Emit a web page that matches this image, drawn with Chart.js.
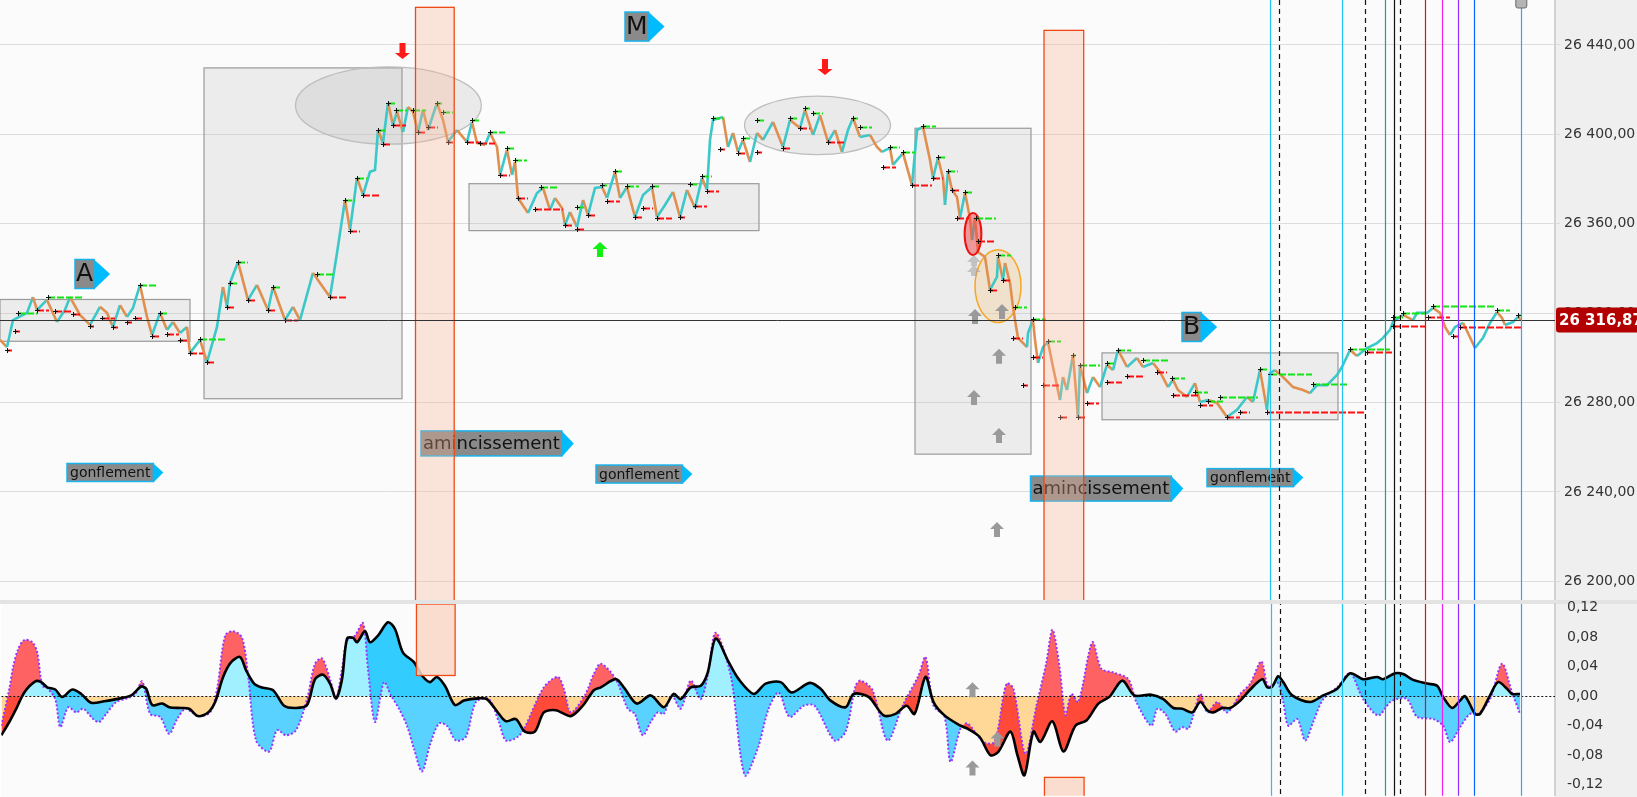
<!DOCTYPE html>
<html>
<head>
<meta charset="utf-8">
<script src="https://cdn.jsdelivr.net/npm/chart.js@4.4.1/dist/chart.umd.min.js"></script>
<style>
html, body { margin: 0; padding: 0; background: #fff; overflow: hidden; }
#wrap { position: relative; width: 1637px; height: 797px; }
#priceChart { position: absolute; left: 0; top: 0; }
#oscChart { position: absolute; left: 0; top: 600px; }
</style>
</head>
<body>
<div id="wrap">
  <canvas id="priceChart" width="1637" height="600"></canvas>
  <canvas id="oscChart" width="1637" height="197"></canvas>
</div>
<script>
// ---- price series (time, price) ----
const priceT = [0,7,13,27,33,37,47,57,65,70,80,90,100,107,113,120,127,133,140,147,152,160,167,173,180,187,190,200,207,217,223,227,230,238,248,257,268,273,285,293,300,313,320,330,337,345,350,357,363,370,375,378,383,388,393,397,403,408,413,418,423,428,437,443,448,457,467,472,477,485,490,497,500,507,512,515,518,528,537,543,550,555,562,565,570,577,583,588,595,602,607,615,620,627,635,643,652,657,665,673,680,687,695,702,707,710,713,723,728,733,738,743,750,757,763,773,783,790,800,805,813,820,828,835,842,848,853,860,870,877,882,890,893,903,912,917,923,930,933,938,943,945,948,952,957,960,965,970,972,975,978,985,990,997,998,1003,1005,1010,1013,1015,1018,1027,1028,1033,1035,1038,1043,1048,1053,1060,1063,1067,1073,1078,1080,1087,1093,1100,1107,1113,1118,1127,1137,1143,1153,1160,1168,1173,1178,1187,1195,1200,1208,1217,1227,1237,1247,1253,1260,1267,1270,1275,1283,1293,1303,1310,1317,1327,1337,1342,1350,1357,1367,1377,1383,1390,1393,1400,1403,1413,1417,1427,1433,1440,1445,1450,1455,1463,1468,1475,1483,1490,1497,1502,1505,1513,1518,1521];
const priceV = [26308.0,26304.8,26316.9,26320.1,26327.2,26321.4,26325.9,26316.0,26321.4,26327.2,26319.2,26314.7,26322.8,26320.1,26313.8,26323.6,26318.3,26322.3,26332.6,26318.3,26310.2,26320.1,26312.5,26316.0,26311.1,26313.8,26302.2,26308.0,26298.1,26313.8,26331.7,26322.8,26333.5,26342.9,26325.9,26332.6,26321.4,26331.7,26316.9,26322.8,26316.9,26338.0,26333.5,26327.2,26346.9,26370.6,26357.2,26380.5,26372.9,26383.2,26384.0,26401.9,26396.1,26414.0,26404.2,26410.0,26401.0,26412.2,26410.0,26401.0,26410.9,26401.9,26414.0,26406.4,26396.6,26401.9,26396.6,26405.5,26396.1,26395.2,26400.6,26394.3,26381.8,26393.0,26381.8,26387.6,26371.5,26364.8,26373.7,26376.0,26366.2,26371.5,26367.0,26359.4,26365.2,26358.5,26370.6,26363.9,26376.0,26376.4,26371.5,26383.2,26371.5,26376.4,26363.0,26372.8,26376.4,26363.0,26368.4,26374.2,26363.0,26375.1,26367.0,26380.5,26375.1,26397.5,26406.4,26407.7,26394.3,26400.6,26392.1,26397.5,26387.6,26400.6,26397.5,26405.5,26394.3,26406.4,26402.8,26410.9,26399.7,26408.6,26396.6,26401.9,26392.1,26401.9,26407.3,26398.8,26399.7,26394.3,26392.1,26393.9,26386.3,26391.6,26377.3,26401.9,26403.3,26388.5,26380.5,26389.4,26380.5,26368.4,26383.2,26375.1,26372.0,26362.6,26373.7,26362.6,26352.7,26362.6,26347.3,26345.1,26330.4,26336.2,26345.1,26334.8,26342.4,26333.5,26322.8,26316.9,26308.9,26304.8,26311.1,26316.9,26308.0,26297.7,26304.8,26307.1,26295.9,26281.1,26291.4,26285.6,26301.3,26273.5,26296.8,26284.2,26291.4,26286.9,26296.8,26294.5,26303.5,26295.9,26299.9,26295.9,26297.7,26293.7,26286.9,26290.1,26285.6,26282.5,26288.7,26280.2,26281.1,26279.8,26273.5,26276.7,26282.5,26280.2,26294.5,26276.7,26293.2,26294.5,26291.4,26286.9,26285.6,26284.2,26287.8,26287.8,26292.3,26295.9,26303.5,26300.8,26304.4,26306.6,26308.9,26312.5,26316.0,26318.3,26319.2,26316.9,26320.1,26320.1,26322.3,26320.1,26313.8,26310.2,26313.8,26315.6,26311.1,26304.4,26308.9,26315.6,26320.5,26317.8,26314.7,26316.0,26318.3,26316.9];
const lastPrice = 26316.87;
const priceTicks = [26200, 26240, 26280, 26320, 26360, 26400, 26440];

// swing highs / lows: time, price, extension
const hiT = [18,48,140,160,200,230,238,273,317,345,357,378,388,396,413,437,443,472,490,507,515,541,577,602,615,627,652,690,702,713,743,757,790,805,813,853,860,890,903,923,938,948,965,976,998,1015,1033,1048,1073,1080,1107,1118,1143,1172,1195,1208,1220,1260,1270,1313,1350,1393,1403,1433,1497,1518];
const hiP = [26320.1,26327.2,26332.6,26320.1,26308.4,26333.5,26342.9,26331.7,26337.5,26370.6,26380.5,26401.9,26414.0,26410.9,26410.9,26414.0,26410.0,26406.4,26401.0,26393.9,26388.5,26376.4,26367.5,26377.3,26383.6,26376.9,26376.9,26377.8,26381.4,26407.3,26398.4,26406.4,26407.3,26411.8,26409.5,26407.3,26403.3,26394.3,26392.1,26403.7,26389.9,26383.6,26374.2,26362.6,26346.0,26322.8,26317.4,26307.5,26301.3,26296.8,26297.7,26303.5,26299.0,26291.0,26284.7,26280.7,26282.5,26295.0,26292.8,26288.3,26304.0,26318.3,26320.1,26323.2,26321.4,26319.2];
const hiLen = [20,35,18,7,25,7,10,7,18,10,10,7,7,11,13,5,10,7,15,7,12,18,8,5,8,12,7,8,10,10,7,7,8,5,10,5,12,10,12,13,8,10,8,20,13,12,13,13,3,20,7,13,27,13,13,15,38,7,42,35,40,10,23,62,13,3];
const loT = [7,15,37,55,73,90,102,113,127,135,152,167,180,190,207,227,248,268,285,330,350,363,383,393,418,428,448,467,480,500,518,535,565,577,588,607,635,643,657,680,695,707,720,738,757,783,800,828,883,912,933,952,957,978,990,1003,1013,1023,1033,1043,1060,1078,1087,1107,1127,1157,1173,1200,1227,1240,1267,1367,1393,1428,1453,1460];
const loP = [26303.5,26312.0,26321.4,26321.0,26319.6,26314.2,26317.8,26313.8,26316.0,26317.8,26309.8,26310.7,26308.0,26302.2,26298.1,26322.8,26325.9,26321.4,26316.9,26327.2,26356.7,26372.9,26395.7,26404.2,26401.0,26403.3,26396.6,26396.6,26396.1,26381.8,26371.5,26366.6,26359.4,26357.6,26363.9,26370.2,26363.0,26367.0,26362.6,26363.0,26367.9,26374.6,26393.4,26391.6,26392.1,26393.9,26402.8,26396.6,26385.4,26377.3,26380.5,26375.1,26362.6,26352.3,26330.4,26334.8,26308.9,26287.8,26300.4,26287.8,26273.5,26273.5,26279.8,26289.2,26291.9,26293.7,26283.4,26278.9,26273.5,26275.8,26275.8,26302.6,26314.2,26318.3,26309.8,26313.8];
const loLen = [5,5,12,18,8,4,13,5,5,8,8,12,8,13,7,7,7,7,13,18,10,18,8,13,8,10,5,13,15,10,10,28,7,8,7,13,8,10,15,5,12,12,5,8,5,7,10,18,13,20,10,7,12,17,8,8,10,5,10,17,7,7,12,15,17,10,25,13,13,10,97,25,32,22,5,63];

// shaded zones: [t0, t1, priceTop, priceBottom]
const rangeBoxes = [[0,190,26326.1,26307.4],[204,402,26429.7,26281.7],[469,759,26377.9,26356.9],[915,1031,26402.7,26256.9],[1102,1338,26302.2,26272.3]];
// ellipses: [tCenter, priceCenter, tRadius, priceRadius]
const topEllipses = [[388.4,26412.9,92.9,17.3],[817.5,26404.0,73,13.1]];
const redEllipse = [973,26355.4,8.4,9.35];
const orangeEllipse = [998,26332.1,23,16.3];
// thinning columns: time span, top price, osc span
const thinCols = [
  {t0: 415.5, t1: 454.2, top: 26456.8, oscLo: 0.028, oscHi: 0.1248},
  {t0: 1044, t1: 1083.7, top: 26446.5, oscLo: -0.2, oscHi: -0.110}
];

// tags: left time, centre price, text, kind
const tagT = [75, 625, 1182, 67, 421, 596, 1030.5, 1207];
const tagP = [26337.5, 26448.2, 26313.8, 26248.7, 26261.7, 26248.0, 26241.5, 26246.4];
const tagText = ['A', 'M', 'B', 'gonflement', 'amincissement', 'gonflement', 'amincissement', 'gonflement'];
const tagKind = ['L', 'L', 'L', 'S', 'M', 'S', 'M', 'S'];

// arrows (tip position)
const arrowT = [402.5, 825, 600, 974, 974, 975, 1002, 999, 974, 999, 997];
const arrowP = [26433.7, 26426.5, 26351.8, 26346.0, 26341.5, 26321.8, 26324.1, 26304.0, 26285.6, 26268.6, 26226.6];
const arrowKind = ['down', 'down', 'green', 'faint', 'faint', 'gray', 'gray', 'gray', 'gray', 'gray', 'gray'];
const oscArrowT = [972, 997, 972];
const oscArrowV = [0.019, -0.048, -0.087];

// vertical time markers
const vlineT = [1270.3, 1279.3, 1342.3, 1365.3, 1385.3, 1394.3, 1400.3, 1425.3, 1442.3, 1458.3, 1474.3, 1521.3];

// ---- oscillator ----
const sigT = [0,8,15,23,34,40,46,54,61,71,80,90,103,115,130,140,145,151,161,168,180,188,197,207,214,222,230,239,245,253,260,272,283,295,306,314,322,329,335,341,346,352,356,364,369,377,387,394,402,413,421,429,436,444,454,463,478,486,498,505,515,524,534,543,555,570,582,593,600,615,623,636,650,663,673,680,690,700,707,715,728,738,753,765,780,791,809,820,830,845,853,868,883,895,906,914,925,933,944,960,967,979,990,998,1010,1017,1024,1033,1040,1052,1063,1075,1086,1098,1109,1122,1134,1151,1163,1173,1182,1192,1200,1207,1213,1222,1230,1240,1250,1262,1267,1272,1278,1283,1292,1310,1323,1337,1350,1363,1377,1383,1395,1403,1413,1427,1437,1443,1452,1460,1465,1475,1480,1490,1498,1507,1512,1520];
const sigV = [-0.053,-0.035,-0.017,0.005,0.020,0.019,0.012,0.009,-0.001,0.009,0.003,-0.009,-0.007,-0.004,0.001,0.013,0.010,-0.012,-0.010,-0.015,-0.016,-0.017,-0.027,-0.022,-0.008,0.026,0.046,0.053,0.035,0.017,0.012,0.008,-0.013,-0.016,-0.012,0.023,0.029,0.017,-0.003,0.023,0.078,0.079,0.073,0.088,0.073,0.082,0.100,0.091,0.059,0.046,0.028,0.019,0.026,0.014,-0.012,-0.006,-0.003,-0.004,-0.024,-0.034,-0.031,-0.048,-0.048,-0.022,-0.019,-0.027,-0.013,0.008,0.012,0.023,0.012,-0.010,0.001,-0.015,0.003,-0.004,0.012,0.014,0.032,0.078,0.046,0.023,0.003,0.017,0.019,0.005,0.018,0.010,-0.006,-0.015,0.003,-0.001,-0.026,-0.024,-0.013,-0.024,0.026,-0.008,-0.026,-0.040,-0.044,-0.055,-0.080,-0.075,-0.048,-0.080,-0.107,-0.048,-0.062,-0.034,-0.075,-0.040,-0.033,-0.010,-0.001,0.021,0.001,0.002,-0.004,-0.016,-0.017,-0.022,-0.008,-0.019,-0.022,-0.016,-0.016,-0.006,0.009,0.023,0.012,0.013,0.027,0.019,0.001,-0.008,0.001,0.010,0.031,0.023,0.026,0.023,0.031,0.030,0.022,0.017,0.014,-0.001,-0.016,-0.006,0.000,-0.024,-0.024,0.001,0.019,0.010,0.003,0.003];
const mainT = [0,8,12,17,23,31,36,41,46,54,59,67,75,82,92,98,105,115,126,134,141,149,159,168,176,184,191,197,209,216,224,232,241,247,255,268,276,285,295,306,314,321,329,335,341,346,354,362,367,374,383,390,398,406,413,421,429,438,446,455,465,475,488,498,505,517,524,543,557,563,570,584,593,600,615,627,634,642,650,657,663,671,680,690,700,707,715,730,744,757,768,778,789,803,814,834,845,855,860,872,887,902,918,925,933,944,950,960,967,983,994,1006,1013,1025,1036,1046,1052,1059,1065,1071,1078,1092,1101,1113,1128,1136,1151,1157,1165,1175,1182,1188,1193,1200,1207,1217,1227,1240,1250,1261,1268,1277,1283,1288,1297,1305,1313,1323,1337,1350,1363,1378,1390,1397,1407,1417,1433,1443,1450,1460,1470,1478,1490,1502,1512,1520];
const mainV = [-0.040,0.010,0.041,0.064,0.076,0.073,0.059,0.014,0.011,-0.004,-0.042,-0.015,-0.022,-0.017,-0.031,-0.035,-0.024,-0.008,-0.003,0.003,0.020,-0.024,-0.028,-0.051,-0.031,-0.017,-0.022,-0.027,-0.022,0.010,0.082,0.088,0.079,0.028,-0.060,-0.075,-0.046,-0.053,-0.046,-0.004,0.044,0.051,0.023,-0.004,0.037,0.075,0.082,0.099,0.037,-0.035,0.019,0.001,-0.017,-0.040,-0.071,-0.102,-0.066,-0.037,-0.040,-0.060,-0.055,-0.008,-0.004,-0.035,-0.060,-0.055,-0.042,0.012,0.026,0.010,-0.022,0.001,0.030,0.044,0.023,-0.017,-0.024,-0.053,-0.035,-0.022,-0.024,0.001,-0.017,0.021,-0.004,0.028,0.086,0.028,-0.107,-0.071,-0.017,0.005,-0.028,-0.013,-0.013,-0.060,-0.048,0.014,0.021,0.008,-0.060,-0.013,0.028,0.053,-0.013,-0.028,-0.089,-0.044,-0.037,-0.062,-0.062,0.017,0.010,-0.078,-0.013,0.046,0.090,0.041,-0.026,0.003,-0.008,0.073,0.037,0.032,0.023,-0.008,-0.040,-0.017,-0.024,-0.048,-0.042,-0.044,-0.026,0.003,-0.022,-0.008,-0.022,0.003,0.017,0.047,0.013,0.019,-0.008,-0.040,-0.031,-0.060,-0.035,-0.004,0.012,0.031,-0.004,-0.026,-0.008,-0.004,-0.004,-0.028,-0.031,-0.040,-0.062,-0.042,-0.024,-0.024,-0.004,0.044,0.005,-0.024];
const oscTicks = [-0.12, -0.08, -0.04, 0, 0.04, 0.08, 0.12];

// ---- helpers ----
const FONT = '"DejaVu Sans", Verdana, sans-serif';
function fr(v, dec) {
  if (Math.abs(v) < 1e-9) v = 0;
  const s = Math.abs(v).toFixed(dec).split('.');
  const ip = s[0].replace(/\B(?=(\d{3})+(?!\d))/g, ' ');
  return (v < 0 ? '-' : '') + ip + ',' + s[1];
}
const pts = (xs, ys) => xs.map((x, i) => ({x: x, y: ys[i]}));

const vlineStyle = [
  ['#22c4f0', []], ['#111', [5, 4]], ['#22c4f0', []], ['#111', [5, 4]], ['#1f9e9e', []], ['#111', []],
  ['#111', [5, 4]], ['#e01010', []], ['#ee22ee', []], ['#9030ff', []], ['#1060ff', []], ['#30a8ee', []]
];
const tagStyle = {
  L: {size: 25, padX: 1, h: 29, tip: 16},
  M: {size: 18, padX: 2, h: 25, tip: 12},
  S: {size: 14, padX: 3, h: 18, tip: 10}
};
const arrowStyle = {
  down: {color: '#ff1a1a', dir: 1, hw: 15, hh: 6, sw: 6, sl: 10},
  green: {color: '#11ee11', dir: -1, hw: 15, hh: 7, sw: 6, sl: 8},
  gray: {color: '#9a9a9a', dir: -1, hw: 14, hh: 7, sw: 6, sl: 8},
  faint: {color: 'rgba(160,160,160,0.55)', dir: -1, hw: 14, hh: 7, sw: 6, sl: 4}
};

function drawArrow(ctx, x, y, st) {
  // y is the tip; dir 1 means pointing down
  const d = st.dir;
  ctx.fillStyle = st.color;
  ctx.beginPath();
  ctx.moveTo(x, y);
  ctx.lineTo(x - st.hw / 2, y - d * st.hh);
  ctx.lineTo(x - st.sw / 2, y - d * st.hh);
  ctx.lineTo(x - st.sw / 2, y - d * (st.hh + st.sl));
  ctx.lineTo(x + st.sw / 2, y - d * (st.hh + st.sl));
  ctx.lineTo(x + st.sw / 2, y - d * st.hh);
  ctx.lineTo(x + st.hw / 2, y - d * st.hh);
  ctx.closePath();
  ctx.fill();
}

function drawTag(ctx, x, yc, text, st) {
  ctx.font = st.size + 'px ' + FONT;
  const w = ctx.measureText(text).width + st.padX * 2;
  const y = yc - st.h / 2;
  ctx.fillStyle = '#00bcff';
  ctx.beginPath();
  ctx.moveTo(x + w, y);
  ctx.lineTo(x + w + st.tip, yc);
  ctx.lineTo(x + w, y + st.h + 1);
  ctx.closePath();
  ctx.fill();
  ctx.fillStyle = '#8a8a8a';
  ctx.fillRect(x, y, w, st.h);
  ctx.strokeStyle = '#18b2ec';
  ctx.lineWidth = 1.5;
  ctx.strokeRect(x, y, w, st.h);
  ctx.fillStyle = '#111';
  ctx.textBaseline = 'middle';
  ctx.textAlign = 'left';
  ctx.fillText(text, x + st.padX, yc + 1);
}

function drawVlines(chart) {
  const ctx = chart.ctx, a = chart.chartArea, xs = chart.scales.x;
  vlineT.forEach((t, i) => {
    const x = Math.round(xs.getPixelForValue(t)) + 0.5;
    ctx.strokeStyle = vlineStyle[i][0];
    ctx.setLineDash(vlineStyle[i][1]);
    ctx.lineWidth = 1.2;
    ctx.beginPath();
    ctx.moveTo(x, 0);
    ctx.lineTo(x, chart.height);
    ctx.stroke();
  });
  ctx.setLineDash([]);
}

const panelBg = {
  id: 'panelBg',
  beforeDraw(chart) {
    const ctx = chart.ctx, a = chart.chartArea;
    ctx.save();
    ctx.fillStyle = '#fbfbfb';
    ctx.fillRect(a.left, 0, a.right - a.left, chart.height);
    ctx.fillStyle = '#efefef';
    ctx.fillRect(a.right, 0, chart.width - a.right, chart.height);
    ctx.restore();
  }
};

// ---- price panel decorations ----
const priceDeco = {
  id: 'priceDeco',
  beforeDatasetsDraw(chart) {
    const ctx = chart.ctx, a = chart.chartArea, xs = chart.scales.x, ys = chart.scales.y;
    ctx.save();
    ctx.beginPath(); ctx.rect(a.left, a.top, a.right - a.left, a.bottom - a.top); ctx.clip();
    rangeBoxes.forEach(b => {
      const x0 = xs.getPixelForValue(b[0]), x1 = xs.getPixelForValue(b[1]);
      const y0 = ys.getPixelForValue(b[2]), y1 = ys.getPixelForValue(b[3]);
      ctx.fillStyle = 'rgba(190,190,190,0.25)';
      ctx.fillRect(x0, y0, x1 - x0, y1 - y0);
      ctx.strokeStyle = '#9a9a9a';
      ctx.lineWidth = 1.2;
      ctx.strokeRect(x0, y0, x1 - x0, y1 - y0);
    });
    const ell = (e, fill, stroke, lw) => {
      const cx = xs.getPixelForValue(e[0]), cy = ys.getPixelForValue(e[1]);
      const rx = xs.getPixelForValue(e[0] + e[2]) - cx, ry = cy - ys.getPixelForValue(e[1] + e[3]);
      ctx.beginPath();
      ctx.ellipse(cx, cy, rx, ry, 0, 0, Math.PI * 2);
      ctx.fillStyle = fill; ctx.fill();
      ctx.strokeStyle = stroke; ctx.lineWidth = lw; ctx.stroke();
    };
    topEllipses.forEach(e => ell(e, 'rgba(170,170,170,0.2)', '#bdbdbd', 1.3));
    ell(orangeEllipse, 'rgba(250,205,150,0.35)', '#f5a623', 1.5);
    ctx.restore();
    this._ell = ell;
  },
  afterDatasetsDraw(chart) {
    const ctx = chart.ctx, a = chart.chartArea, xs = chart.scales.x, ys = chart.scales.y;
    ctx.save();
    ctx.beginPath(); ctx.rect(a.left, a.top, a.right - a.left, a.bottom - a.top); ctx.clip();

    // red ellipse above the line
    const cx = xs.getPixelForValue(redEllipse[0]), cy = ys.getPixelForValue(redEllipse[1]);
    const rx = xs.getPixelForValue(redEllipse[0] + redEllipse[2]) - cx;
    const ry = cy - ys.getPixelForValue(redEllipse[1] + redEllipse[3]);
    ctx.beginPath(); ctx.ellipse(cx, cy, rx, ry, 0, 0, Math.PI * 2);
    ctx.fillStyle = 'rgba(240,70,70,0.5)'; ctx.fill();
    ctx.strokeStyle = '#ee1111'; ctx.lineWidth = 2; ctx.stroke();

    // swing levels
    const level = (T, P, L, color) => {
      ctx.setLineDash([7, 2]);
      ctx.strokeStyle = color;
      ctx.lineWidth = 2;
      T.forEach((t, i) => {
        const y = Math.round(ys.getPixelForValue(P[i])) + 0.5;
        ctx.beginPath();
        ctx.moveTo(xs.getPixelForValue(t), y);
        ctx.lineTo(xs.getPixelForValue(t + L[i]), y);
        ctx.stroke();
      });
      ctx.setLineDash([]);
      ctx.strokeStyle = '#111';
      ctx.lineWidth = 1;
      T.forEach((t, i) => {
        const x = Math.round(xs.getPixelForValue(t)) + 0.5, y = Math.round(ys.getPixelForValue(P[i])) + 0.5;
        ctx.beginPath();
        ctx.moveTo(x - 2.5, y); ctx.lineTo(x + 2.5, y);
        ctx.moveTo(x, y - 2.5); ctx.lineTo(x, y + 2.5);
        ctx.stroke();
      });
    };
    level(hiT, hiP, hiLen, '#12e612');
    level(loT, loP, loLen, '#ff1010');

    // tags
    tagT.forEach((t, i) => drawTag(ctx, xs.getPixelForValue(t), ys.getPixelForValue(tagP[i]), tagText[i], tagStyle[tagKind[i]]));

    // thinning columns
    thinCols.forEach(c => {
      const x0 = xs.getPixelForValue(c.t0), x1 = xs.getPixelForValue(c.t1);
      const y0 = ys.getPixelForValue(c.top), y1 = a.bottom + 5;
      ctx.fillStyle = 'rgba(248,180,150,0.33)';
      ctx.fillRect(x0, y0, x1 - x0, y1 - y0);
      ctx.strokeStyle = '#f04a14';
      ctx.lineWidth = 1.3;
      ctx.strokeRect(x0, y0, x1 - x0, y1 - y0);
    });

    // arrows
    arrowT.forEach((t, i) => drawArrow(ctx, xs.getPixelForValue(t), ys.getPixelForValue(arrowP[i]), arrowStyle[arrowKind[i]]));

    // last price line
    const yl = Math.round(ys.getPixelForValue(lastPrice)) + 0.5;
    ctx.strokeStyle = '#333';
    ctx.lineWidth = 1;
    ctx.beginPath(); ctx.moveTo(a.left, yl); ctx.lineTo(a.right, yl); ctx.stroke();
    ctx.restore();

    ctx.save();
    drawVlines(chart);
    // small handle at top of the last marker
    const xh = xs.getPixelForValue(vlineT[vlineT.length - 1]);
    ctx.fillStyle = '#b4b4b4'; ctx.strokeStyle = '#6a6a6a'; ctx.lineWidth = 1;
    ctx.beginPath(); ctx.roundRect(xh - 5.5, -3, 11, 11, 2); ctx.fill(); ctx.stroke();
    ctx.restore();
  },
  afterDraw(chart) {
    const ctx = chart.ctx, a = chart.chartArea, ys = chart.scales.y;
    const y = ys.getPixelForValue(lastPrice);
    ctx.save();
    ctx.fillStyle = '#b30000';
    ctx.beginPath(); ctx.roundRect(a.right + 1, y - 12.5, 100, 25, 3); ctx.fill();
    ctx.fillStyle = '#fff';
    ctx.font = 'bold 15px ' + FONT;
    ctx.textBaseline = 'middle';
    ctx.textAlign = 'left';
    ctx.fillText(fr(lastPrice, 2), a.right + 4, y + 1);
    ctx.restore();
  }
};

// ---- oscillator decorations ----
const oscDeco = {
  id: 'oscDeco',
  beforeDraw(chart) {
    const ctx = chart.ctx;
    ctx.save();
    ctx.fillStyle = '#e3e3e3';
    ctx.fillRect(0, 0, chart.width, 4);
    ctx.restore();
  },
  afterDatasetsDraw(chart) {
    const ctx = chart.ctx, a = chart.chartArea, xs = chart.scales.x, ys = chart.scales.y;
    ctx.save();
    ctx.beginPath(); ctx.rect(a.left, a.top, a.right - a.left, a.bottom - a.top); ctx.clip();
    const y0 = Math.round(ys.getPixelForValue(0)) + 0.5;
    ctx.strokeStyle = '#111'; ctx.lineWidth = 1; ctx.setLineDash([2, 2]);
    ctx.beginPath(); ctx.moveTo(a.left, y0); ctx.lineTo(a.right, y0); ctx.stroke();
    ctx.setLineDash([]);
    thinCols.forEach(c => {
      const x0 = xs.getPixelForValue(c.t0), x1 = xs.getPixelForValue(c.t1);
      const yt = ys.getPixelForValue(c.oscHi), yb = ys.getPixelForValue(c.oscLo);
      ctx.fillStyle = 'rgba(250,215,200,0.85)';
      ctx.fillRect(x0, yt, x1 - x0, yb - yt);
      ctx.strokeStyle = '#f04a14'; ctx.lineWidth = 1.3;
      ctx.strokeRect(x0, yt, x1 - x0, yb - yt);
    });
    oscArrowT.forEach((t, i) => drawArrow(ctx, xs.getPixelForValue(t), ys.getPixelForValue(oscArrowV[i]), arrowStyle.gray));
    ctx.restore();
    ctx.save();
    ctx.beginPath(); ctx.rect(0, a.top, chart.width, a.bottom - a.top); ctx.clip();
    drawVlines(chart);
    ctx.restore();
  }
};

const rightAxis = (ticksArr, min, max, dec, grid) => ({
  position: 'right',
  min: min,
  max: max,
  afterBuildTicks: s => { s.ticks = ticksArr.map(v => ({value: v})); },
  afterFit: s => { s.width = 82; s.paddingTop = 0; s.paddingBottom = 0; },
  ticks: {font: {family: FONT, size: 14}, color: '#333', padding: 4, callback: v => fr(v, dec)},
  grid: grid ? {color: '#dddddd', tickLength: 5} : {display: false},
  border: {display: true, color: '#d2d2d2', width: 2}
});

const priceChart = new Chart(document.getElementById('priceChart'), {
  type: 'line',
  data: {
    datasets: [{
      label: 'prix',
      data: pts(priceT, priceV),
      borderWidth: 2.6,
      pointRadius: 0,
      tension: 0,
      borderColor: '#3cc8c8',
      segment: {
        borderColor: c => c.p1.parsed.y >= c.p0.parsed.y ? '#3cc8c8' : '#e08f4f'
      }
    }]
  },
  options: {
    responsive: false,
    animation: false,
    events: [],
    layout: {padding: 0},
    plugins: {legend: {display: false}, tooltip: {enabled: false}},
    scales: {
      x: {type: 'linear', min: 0, max: 1555, display: false},
      y: rightAxis(priceTicks, 26191.65, 26460.08, 2, true)
    }
  },
  plugins: [panelBg, priceDeco]
});

const oscChart = new Chart(document.getElementById('oscChart'), {
  type: 'line',
  data: {
    datasets: [
      {label: 'signal-zone', data: pts(sigT, sigV), borderWidth: 0, borderColor: 'rgba(0,0,0,0)', pointRadius: 0, tension: 0.3,
        fill: {target: 'origin', above: '#a0f0ff', below: '#ffd898'}, order: 3},
      {label: 'main', data: pts(mainT, mainV), borderWidth: 2, borderColor: '#9933ff', borderDash: [2, 2], pointRadius: 0, tension: 0.3,
        fill: {target: 0, above: '#ff5e5e', below: '#4fd0ff'}, order: 2},
      {label: 'signal', data: pts(sigT, sigV), borderWidth: 2.6, borderColor: '#000', pointRadius: 0, tension: 0.3, fill: false, order: 1}
    ]
  },
  options: {
    responsive: false,
    animation: false,
    events: [],
    layout: {padding: {top: 4}},
    plugins: {legend: {display: false}, tooltip: {enabled: false}, filler: {drawTime: 'beforeDatasetsDraw'}},
    scales: {
      x: {type: 'linear', min: 0, max: 1555, display: false},
      y: rightAxis(oscTicks, -0.1348, 0.1248, 2, false)
    }
  },
  plugins: [panelBg, oscDeco]
});

// two tones split at the zero line, positioned through the oscillator scale
(function () {
  const zy = oscChart.scales.y.getPixelForValue(0);
  const H = oscChart.height;
  const f = Math.min(1, Math.max(0, zy / H));
  const tone = (top, bottom) => {
    const g = oscChart.ctx.createLinearGradient(0, 0, 0, H);
    g.addColorStop(0, top); g.addColorStop(f, top); g.addColorStop(f, bottom); g.addColorStop(1, bottom);
    return g;
  };
  oscChart.data.datasets[1].fill = {target: 0, above: tone('#ff6262', '#ff4a3a'), below: tone('#33ccff', '#5ad2ff')};
  oscChart.update('none');
})();
</script>
</body>
</html>
